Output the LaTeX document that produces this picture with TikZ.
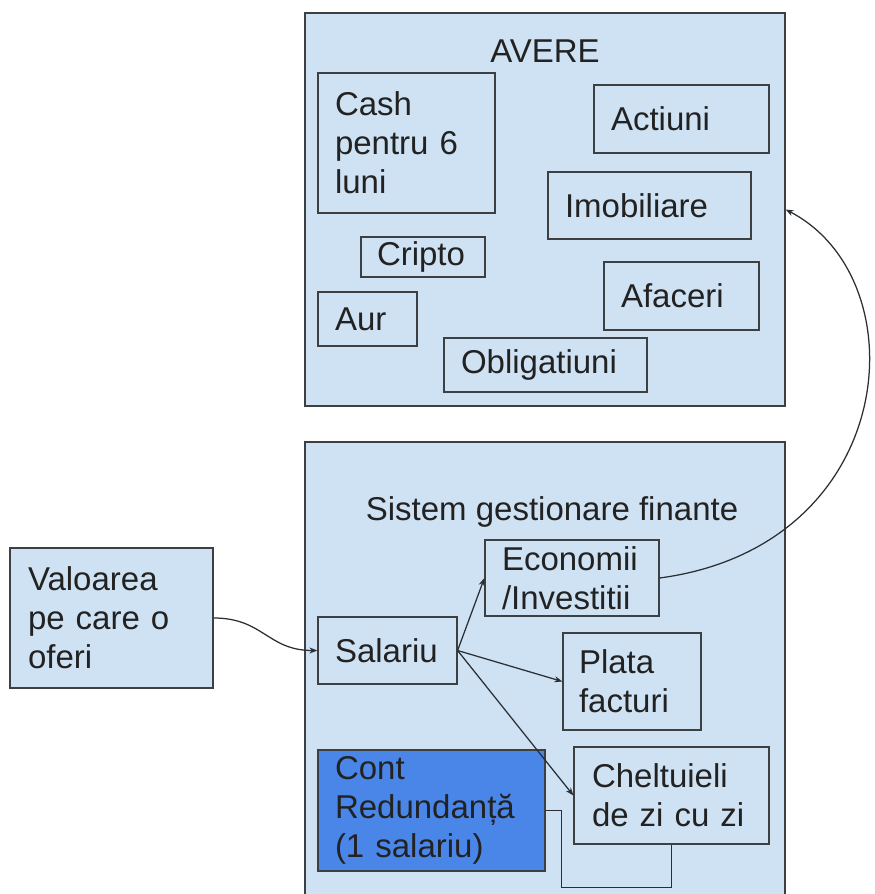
\documentclass[tikz,border=0pt]{standalone}
\usepackage{fontspec}
\setmainfont{Liberation Sans}
\usetikzlibrary{arrows.meta,calc}
\definecolor{boxfill}{HTML}{CFE2F3}
\definecolor{contfill}{HTML}{4A86E8}
\definecolor{edge}{HTML}{3C4043}
\definecolor{wire}{HTML}{2B2F33}
\definecolor{ink}{HTML}{222222}
\begin{document}
\begin{tikzpicture}[x=1pt,y=-1pt,
  box/.style={draw=edge, line width=1.2pt, fill=boxfill, rectangle, align=left,
    inner xsep=17pt, inner ysep=0pt, text=ink, font=\fontsize{33}{39}\selectfont},
  frame/.style={draw=edge, line width=1.2pt, fill=boxfill, rectangle, inner sep=0pt},
  title/.style={text=ink, font=\fontsize{33}{39}\selectfont, inner sep=0pt, anchor=base},
  conn/.style={draw=wire, line width=1.25pt},
  arr/.style={conn, -{Stealth[length=8pt,width=6pt]}}]
\fill[white] (0,0) rectangle (875,894);
\path[use as bounding box, clip] (0,0) rectangle (875,894);
% frames
\node[frame, minimum width=480pt, minimum height=393pt] (avere) at (545,209.5) {};
\node[frame, minimum width=480pt, minimum height=463pt] (sistem) at (545,673.5) {};
\node[title] (tavere) at (545,62) {AVERE};
\node[title] (tsistem) at (552,520) {Sistem gestionare finante};
% AVERE contents
\node[box, text width=143pt, minimum height=140pt] (cash) at (406.5,143) {Cash\\pentru 6\\luni};
\node[box, text width=141pt, minimum height=68pt] (actiuni) at (681.5,119) {Actiuni};
\node[box, text width=169pt, minimum height=67pt] (imob) at (649.5,205.5) {Imobiliare};
\node[box, inner xsep=16pt, text width=92pt, minimum height=40pt] (cripto) at (423,257) {Cripto};
\node[box, text width=65pt, minimum height=54pt] (aur) at (367.5,319) {Aur};
\node[box, text width=121pt, minimum height=68pt] (afaceri) at (681.5,296) {Afaceri};
\node[box, text width=169pt, minimum height=54pt] (oblig) at (545.5,365) {Obligatiuni};
% Sistem contents
\node[box, text width=140pt, minimum height=76pt] (eco) at (572,578) {Economii\\/Investitii};
\node[box, text width=105pt, minimum height=67pt] (sal) at (387.5,650.5) {Salariu};
\node[box, inner xsep=16pt, text width=106pt, minimum height=97pt] (plata) at (632,681.5) {Plata\\facturi};
\node[box, inner xsep=18pt, text width=159pt, minimum height=97pt] (chel) at (671.5,795.5) {Cheltuieli\\de zi cu zi};
\node[box, fill=contfill, text width=193pt, minimum height=121pt] (cont) at (431.5,810.5) {Cont\\Redundanță\\(1 salariu)};
% outside
\node[box, inner xsep=18pt, text width=167pt, minimum height=140pt] (val) at (111.5,618) {Valoarea\\pe care o\\oferi};
% connectors
\draw[arr] (val.east) .. controls +(50,0) and +(-50,0) .. (sal.west);
\draw[arr] (sal.east) -- (eco.west);
\draw[arr] (sal.east) -- (plata.west);
\draw[arr] (sal.east) -- (chel.west);
\draw[arr] (eco.east) .. controls +(240,-32) and +(135,70) .. (avere.east);
\draw[conn] (cont.east) -- ++(16,0) |- ($(chel.south)+(0,43)$) -- (chel.south);
\end{tikzpicture}
\end{document}
